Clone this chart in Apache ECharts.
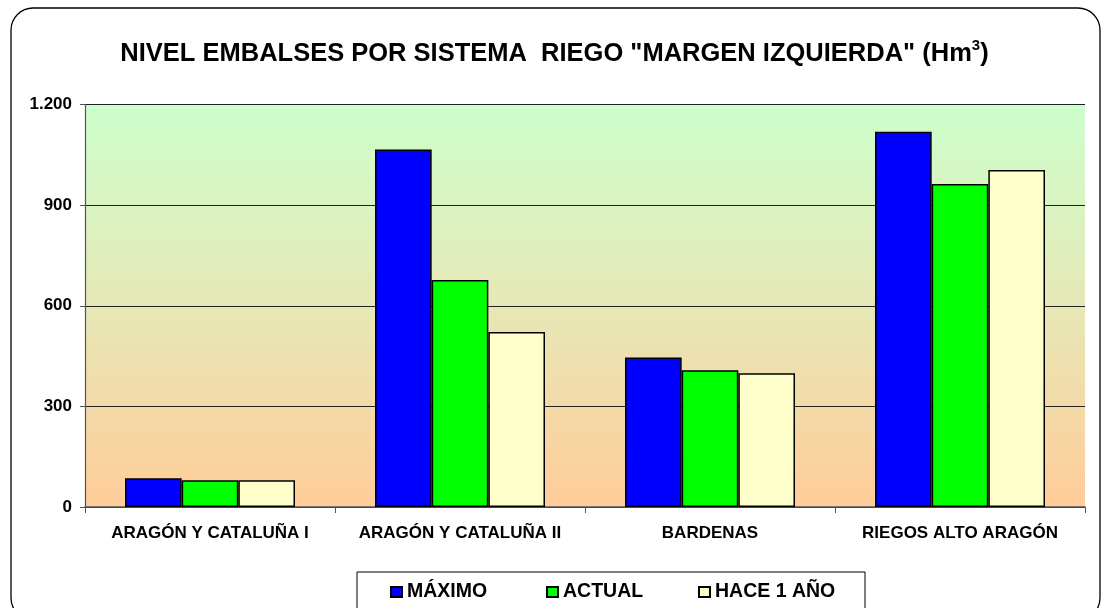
<!DOCTYPE html>
<html><head><meta charset="utf-8">
<script src="https://cdn.jsdelivr.net/npm/echarts@6/dist/echarts.min.js"></script>
<style>html,body{margin:0;padding:0;background:#fff}#c{width:1109px;height:608px}</style>
</head><body><div id="c"></div>
<script>
const categories = ['ARAGÓN Y CATALUÑA I', 'ARAGÓN Y CATALUÑA II', 'BARDENAS', 'RIEGOS ALTO ARAGÓN'];
const maximo = [86, 1066, 446, 1119];
const actual = [80, 677, 408, 963];
const hace1 = [80, 522, 399, 1005];
const seriesNames = ['MÁXIMO', 'ACTUAL', 'HACE 1 AÑO'];
const yTicks = [0, 300, 600, 900, 1200];

const font = 'Arial, "Liberation Sans", sans-serif';
const chart = echarts.init(document.getElementById('c'));
const barStyle = (c) => ({ color: c, borderColor: '#000', borderWidth: 1.5 });
const legendText = { fontFamily: font, fontWeight: 'bold', fontSize: 19.5, color: '#000' };
const legendLefts = [385, 541, 693];
chart.setOption({
  animation: false,
  title: {
    text: '{a|NIVEL EMBALSES POR SISTEMA  RIEGO "MARGEN IZQUIERDA" (Hm}{s|3}{a|)}',
    left: 'center', top: 33,
    textStyle: {
      rich: {
        a: { fontFamily: font, fontWeight: 'bold', fontSize: 25.5, color: '#000', lineHeight: 32 },
        s: { fontFamily: font, fontWeight: 'bold', fontSize: 15, color: '#000', verticalAlign: 'top', lineHeight: 14 }
      }
    }
  },
  graphic: [
    { type: 'rect', shape: { x: 11, y: 8, width: 1089, height: 612, r: 22 }, style: { fill: 'none', stroke: '#000', lineWidth: 1.3 }, z: -1 },
    { type: 'rect', shape: { x: 357, y: 572, width: 508, height: 50 }, style: { fill: '#fff', stroke: '#000', lineWidth: 1 }, z: 0 }
  ],
  legend: seriesNames.map((n, i) => ({
    data: [n],
    left: legendLefts[i], top: 577,
    itemWidth: 11, itemHeight: 10,
    icon: 'rect',
    textStyle: legendText,
    z: 5
  })),
  grid: {
    left: 85, right: 24, top: 104.5, bottom: 101,
    show: true, borderWidth: 0,
    backgroundColor: new echarts.graphic.LinearGradient(0, 0, 0, 1, [
      { offset: 0, color: '#CCFFCC' },
      { offset: 0.5, color: '#E6E8B6' },
      { offset: 1, color: '#FFCC99' }
    ])
  },
  xAxis: {
    type: 'category', data: categories,
    axisLine: { lineStyle: { color: '#555', width: 1.5 } },
    axisTick: { show: true, interval: 0, length: 6, lineStyle: { color: '#555' } },
    axisLabel: { interval: 0, fontFamily: font, fontWeight: 'bold', fontSize: 17, color: '#000', margin: 18 }
  },
  yAxis: {
    type: 'value', min: 0, max: 1200, interval: 300,
    axisLine: { show: true, lineStyle: { color: '#555', width: 1.2 } },
    axisTick: { show: true, length: 5, lineStyle: { color: '#555' } },
    splitLine: { lineStyle: { color: '#222', width: 1 } },
    axisLabel: {
      fontFamily: font, fontWeight: 'bold', fontSize: 17, color: '#000', margin: 13,
      formatter: (v) => yTicks.includes(v) ? v.toLocaleString('de-DE') : ''
    }
  },
  series: [
    { name: seriesNames[0], type: 'bar', data: maximo, itemStyle: barStyle('#0000FF'), barGap: '0%', barCategoryGap: '32%' },
    { name: seriesNames[1], type: 'bar', data: actual, itemStyle: barStyle('#00FF00') },
    { name: seriesNames[2], type: 'bar', data: hace1, itemStyle: barStyle('#FFFFCC') }
  ]
});
</script></body></html>
